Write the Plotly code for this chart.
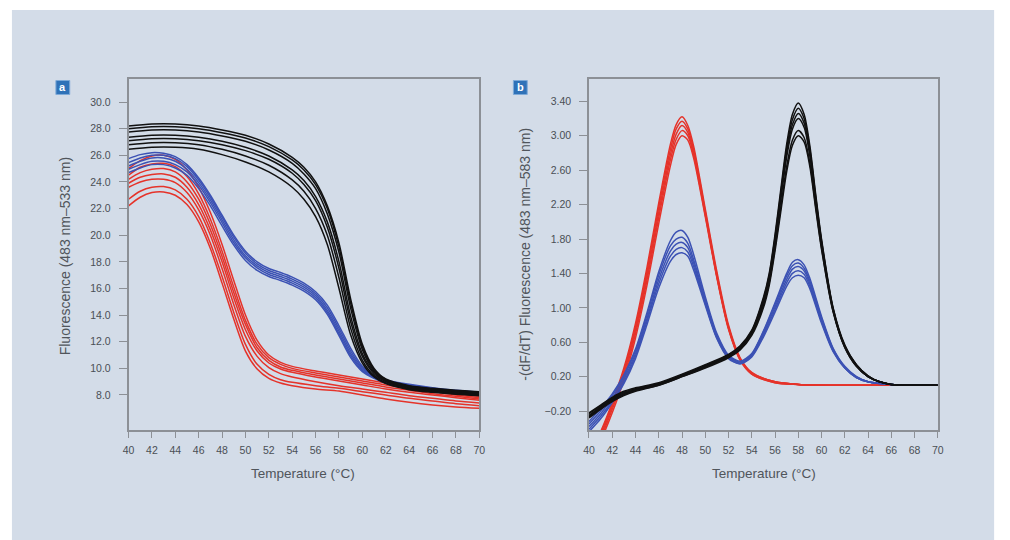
import plotly.graph_objects as go

# ---------------- Panel a: melting curves ----------------
A_BLACK_T = [40, 42, 44, 46, 48, 50, 52, 54, 55, 56, 57, 58, 59, 60, 61, 62, 64, 66, 68, 70]
A_BLACK = [
    [28.20, 28.35, 28.35, 28.20, 27.90, 27.50, 26.85, 25.85, 25.10, 24.00, 22.20, 19.40, 15.20, 11.80, 10.00, 9.20, 8.70, 8.50, 8.35, 8.25],
    [28.00, 28.15, 28.15, 28.00, 27.70, 27.30, 26.65, 25.65, 24.90, 23.80, 22.00, 19.10, 14.90, 11.60, 9.90, 9.15, 8.65, 8.45, 8.30, 8.20],
    [27.75, 27.90, 27.90, 27.75, 27.45, 27.05, 26.40, 25.40, 24.60, 23.50, 21.60, 18.70, 14.50, 11.40, 9.80, 9.10, 8.60, 8.40, 8.25, 8.15],
    [27.35, 27.50, 27.50, 27.35, 27.05, 26.60, 25.95, 24.90, 24.10, 22.90, 21.00, 18.00, 13.90, 11.10, 9.70, 9.05, 8.55, 8.35, 8.20, 8.10],
    [27.10, 27.25, 27.25, 27.10, 26.80, 26.35, 25.70, 24.65, 23.80, 22.60, 20.60, 17.50, 13.50, 10.90, 9.60, 9.00, 8.50, 8.30, 8.15, 8.05],
    [26.80, 26.95, 26.95, 26.80, 26.45, 25.95, 25.25, 24.15, 23.30, 22.00, 20.00, 16.80, 13.00, 10.60, 9.45, 8.90, 8.45, 8.25, 8.10, 8.00],
    [26.45, 26.60, 26.60, 26.45, 26.05, 25.50, 24.75, 23.60, 22.70, 21.40, 19.30, 16.00, 12.50, 10.40, 9.35, 8.85, 8.40, 8.20, 8.05, 7.95],
]

A_BLUE_T = [40, 41, 42, 43, 44, 45, 46, 47, 48, 49, 50, 51, 52, 53, 54, 55, 56, 57, 58, 59, 60, 61, 62, 64, 66, 68, 70]
A_BLUE = [
    [25.75, 26.05, 26.20, 26.15, 25.90, 25.30, 24.30, 23.00, 21.50, 20.00, 18.80, 18.00, 17.50, 17.20, 16.85, 16.40, 15.75, 14.75, 13.20, 11.50, 10.15, 9.45, 9.10, 8.80, 8.55, 8.35, 8.20],
    [25.45, 25.80, 26.00, 26.00, 25.75, 25.15, 24.15, 22.85, 21.35, 19.85, 18.65, 17.85, 17.35, 17.05, 16.70, 16.25, 15.60, 14.55, 13.00, 11.30, 10.05, 9.40, 9.05, 8.75, 8.50, 8.30, 8.15],
    [25.20, 25.55, 25.80, 25.80, 25.55, 24.95, 23.95, 22.65, 21.15, 19.65, 18.45, 17.70, 17.20, 16.90, 16.55, 16.10, 15.45, 14.35, 12.80, 11.10, 9.95, 9.35, 9.00, 8.70, 8.45, 8.25, 8.10],
    [24.95, 25.30, 25.55, 25.55, 25.30, 24.75, 23.75, 22.45, 20.95, 19.45, 18.30, 17.55, 17.05, 16.75, 16.40, 15.95, 15.30, 14.20, 12.60, 10.95, 9.85, 9.30, 8.95, 8.65, 8.40, 8.20, 8.05],
    [24.70, 25.05, 25.30, 25.30, 25.05, 24.50, 23.50, 22.20, 20.70, 19.25, 18.10, 17.35, 16.90, 16.60, 16.25, 15.80, 15.15, 14.05, 12.45, 10.80, 9.75, 9.25, 8.90, 8.60, 8.35, 8.15, 8.00],
]

A_RED_T = [40, 41, 42, 43, 44, 45, 46, 47, 48, 49, 50, 51, 52, 53, 54, 56, 58, 60, 62, 64, 66, 68, 70]
A_RED = [
    [25.00, 25.60, 25.95, 26.00, 25.70, 24.90, 23.60, 21.70, 19.30, 16.60, 14.00, 12.10, 11.00, 10.45, 10.15, 9.80, 9.50, 9.20, 8.90, 8.60, 8.35, 8.10, 7.90],
    [24.50, 25.10, 25.35, 25.40, 25.15, 24.40, 23.10, 21.20, 18.80, 16.10, 13.60, 11.80, 10.80, 10.30, 10.00, 9.65, 9.35, 9.05, 8.75, 8.50, 8.25, 8.00, 7.80],
    [24.20, 24.70, 24.95, 25.00, 24.75, 24.00, 22.70, 20.80, 18.40, 15.70, 13.30, 11.55, 10.60, 10.10, 9.85, 9.50, 9.20, 8.90, 8.60, 8.35, 8.10, 7.90, 7.70],
    [23.90, 24.35, 24.55, 24.60, 24.35, 23.60, 22.30, 20.40, 18.00, 15.30, 12.90, 11.30, 10.40, 9.95, 9.70, 9.35, 9.05, 8.75, 8.45, 8.20, 8.00, 7.80, 7.60],
    [23.60, 24.00, 24.20, 24.20, 23.95, 23.20, 21.90, 20.00, 17.50, 14.80, 12.40, 10.90, 10.05, 9.60, 9.35, 9.00, 8.70, 8.45, 8.20, 7.95, 7.75, 7.55, 7.40],
    [22.70, 23.30, 23.60, 23.65, 23.40, 22.70, 21.40, 19.40, 16.90, 14.20, 11.80, 10.30, 9.55, 9.15, 8.95, 8.70, 8.50, 8.25, 8.00, 7.75, 7.55, 7.35, 7.20],
    [22.20, 22.85, 23.20, 23.25, 23.00, 22.30, 21.00, 19.00, 16.40, 13.70, 11.30, 9.95, 9.25, 8.90, 8.70, 8.45, 8.30, 8.00, 7.70, 7.45, 7.25, 7.10, 7.00],
]

# ---------------- Panel b: derivative curves ----------------
B_RED_T = [40, 41, 42, 43, 44, 45, 46, 47, 47.5, 48, 48.5, 49, 50, 51, 52, 53, 54, 56, 58, 62, 66, 70]
B_RED = [
    [-0.72, -0.44, -0.10, 0.30, 0.82, 1.48, 2.22, 2.90, 3.13, 3.22, 3.12, 2.88, 2.15, 1.42, 0.80, 0.42, 0.25, 0.14, 0.11, 0.10, 0.10, 0.10],
    [-0.74, -0.46, -0.12, 0.27, 0.78, 1.43, 2.17, 2.84, 3.08, 3.17, 3.08, 2.84, 2.12, 1.39, 0.78, 0.41, 0.24, 0.14, 0.11, 0.10, 0.10, 0.10],
    [-0.78, -0.49, -0.15, 0.24, 0.74, 1.38, 2.11, 2.78, 3.02, 3.12, 3.04, 2.80, 2.10, 1.37, 0.77, 0.40, 0.24, 0.14, 0.11, 0.10, 0.10, 0.10],
    [-0.80, -0.52, -0.18, 0.20, 0.70, 1.33, 2.05, 2.72, 2.96, 3.06, 3.00, 2.78, 2.08, 1.36, 0.76, 0.40, 0.23, 0.13, 0.11, 0.10, 0.10, 0.10],
    [-0.84, -0.55, -0.22, 0.16, 0.65, 1.27, 1.98, 2.65, 2.90, 3.00, 2.95, 2.74, 2.06, 1.35, 0.75, 0.39, 0.23, 0.13, 0.11, 0.10, 0.10, 0.10],
]

B_BLUE_T = [40, 41, 42, 43, 44, 45, 46, 47, 47.5, 48, 48.5, 49, 50, 51, 52, 53, 54, 55, 56, 57, 57.5, 58, 58.5, 59, 60, 61, 62, 63, 64, 66, 70]
B_BLUE = [
    [-0.32, -0.17, 0.00, 0.22, 0.52, 0.95, 1.42, 1.78, 1.88, 1.90, 1.82, 1.62, 1.13, 0.70, 0.45, 0.38, 0.47, 0.73, 1.06, 1.40, 1.53, 1.56, 1.50, 1.34, 0.90, 0.53, 0.32, 0.20, 0.14, 0.11, 0.10],
    [-0.35, -0.20, -0.02, 0.20, 0.50, 0.92, 1.38, 1.72, 1.80, 1.82, 1.75, 1.56, 1.10, 0.68, 0.44, 0.37, 0.46, 0.72, 1.04, 1.37, 1.49, 1.52, 1.46, 1.31, 0.88, 0.52, 0.31, 0.20, 0.14, 0.11, 0.10],
    [-0.38, -0.23, -0.05, 0.17, 0.47, 0.88, 1.33, 1.66, 1.74, 1.76, 1.70, 1.52, 1.07, 0.66, 0.43, 0.36, 0.45, 0.70, 1.01, 1.33, 1.45, 1.48, 1.43, 1.28, 0.86, 0.51, 0.31, 0.19, 0.14, 0.11, 0.10],
    [-0.41, -0.26, -0.08, 0.14, 0.44, 0.85, 1.28, 1.60, 1.68, 1.70, 1.65, 1.48, 1.05, 0.65, 0.42, 0.35, 0.44, 0.68, 0.98, 1.29, 1.40, 1.43, 1.39, 1.25, 0.84, 0.50, 0.30, 0.19, 0.14, 0.11, 0.10],
    [-0.44, -0.29, -0.10, 0.12, 0.41, 0.81, 1.23, 1.54, 1.62, 1.64, 1.60, 1.44, 1.03, 0.64, 0.41, 0.35, 0.43, 0.66, 0.95, 1.25, 1.35, 1.38, 1.35, 1.22, 0.82, 0.49, 0.30, 0.19, 0.14, 0.11, 0.10],
]

B_BLACK_T = [40, 41, 42, 43, 44, 46, 48, 50, 52, 53, 54, 55, 55.5, 56, 56.5, 57, 57.5, 58, 58.5, 59, 59.5, 60, 61, 62, 63, 64, 65, 66, 68, 70]
B_BLACK = [
    [-0.22, -0.13, -0.04, 0.03, 0.07, 0.13, 0.23, 0.34, 0.46, 0.56, 0.74, 1.12, 1.40, 1.85, 2.38, 2.90, 3.25, 3.38, 3.25, 2.88, 2.32, 1.80, 1.00, 0.57, 0.34, 0.21, 0.14, 0.11, 0.10, 0.10],
    [-0.23, -0.14, -0.05, 0.02, 0.06, 0.12, 0.22, 0.33, 0.45, 0.55, 0.73, 1.10, 1.38, 1.82, 2.34, 2.85, 3.19, 3.32, 3.20, 2.84, 2.29, 1.78, 0.99, 0.56, 0.34, 0.21, 0.14, 0.11, 0.10, 0.10],
    [-0.25, -0.15, -0.06, 0.01, 0.05, 0.11, 0.21, 0.32, 0.44, 0.54, 0.72, 1.08, 1.35, 1.79, 2.30, 2.80, 3.13, 3.26, 3.15, 2.80, 2.26, 1.76, 0.98, 0.55, 0.33, 0.20, 0.14, 0.11, 0.10, 0.10],
    [-0.26, -0.16, -0.07, 0.00, 0.05, 0.11, 0.21, 0.32, 0.44, 0.53, 0.71, 1.06, 1.33, 1.76, 2.26, 2.75, 3.08, 3.20, 3.10, 2.76, 2.23, 1.74, 0.97, 0.55, 0.33, 0.20, 0.14, 0.11, 0.10, 0.10],
    [-0.27, -0.17, -0.08, -0.01, 0.04, 0.10, 0.20, 0.31, 0.43, 0.52, 0.70, 1.03, 1.29, 1.70, 2.17, 2.64, 2.95, 3.06, 2.98, 2.68, 2.18, 1.70, 0.96, 0.54, 0.32, 0.20, 0.14, 0.11, 0.10, 0.10],
    [-0.28, -0.18, -0.09, -0.02, 0.03, 0.10, 0.20, 0.30, 0.42, 0.51, 0.68, 1.00, 1.26, 1.66, 2.12, 2.58, 2.89, 3.00, 2.93, 2.64, 2.15, 1.68, 0.95, 0.54, 0.32, 0.20, 0.14, 0.11, 0.10, 0.10],
]

X_TICKS = list(range(40, 71, 2))
A_YTICKS = [8.0, 10.0, 12.0, 14.0, 16.0, 18.0, 20.0, 22.0, 24.0, 26.0, 28.0, 30.0]
B_YTICKS = [-0.20, 0.20, 0.60, 1.00, 1.40, 1.80, 2.20, 2.60, 3.00, 3.40]

RED = "#e5332a"
BLUE = "#3c52b4"
BLACK = "#111111"
W, H = 1010, 540
FONT = "Liberation Sans, Arial, sans-serif"

fig = go.Figure()


def add_group(T, curves, color, xa, ya):
    for c in curves:
        fig.add_trace(go.Scatter(x=T, y=c, mode="lines", xaxis=xa, yaxis=ya,
                                 line=dict(color=color, width=1.5, shape="spline", smoothing=0.8),
                                 showlegend=False, hoverinfo="skip"))


add_group(A_RED_T, A_RED, RED, "x", "y")
add_group(A_BLUE_T, A_BLUE, BLUE, "x", "y")
add_group(A_BLACK_T, A_BLACK, BLACK, "x", "y")
add_group(B_RED_T, B_RED, RED, "x2", "y2")
add_group(B_BLUE_T, B_BLUE, BLUE, "x2", "y2")
add_group(B_BLACK_T, B_BLACK, BLACK, "x2", "y2")

axis_common = dict(showline=True, linecolor="#8c9096", linewidth=1.5, mirror=True,
                   ticks="outside", tickcolor="#8c9096", tickwidth=1,
                   showgrid=False, zeroline=False,
                   tickfont=dict(family=FONT, size=10.5, color="#4a4f55"))
xax = dict(ticklen=6, ticklabelstandoff=4, **axis_common)
yax = dict(ticklen=8, ticklabelstandoff=6, **axis_common)

shapes = [dict(type="rect", xref="paper", yref="paper", x0=6 / W, x1=1000 / W, y0=0, y1=1 - 10 / H,
               fillcolor="#d3dce8", line=dict(width=0), layer="below")]
# small blue panel-label squares
for x0 in (50.5, 513.5):
    shapes.append(dict(type="rect", xref="paper", yref="paper", x0=x0 / W, x1=(x0 + 14) / W,
                       y0=1 - 94.5 / H, y1=1 - 80.5 / H, fillcolor="#2f72b8",
                       line=dict(color="#7eaad8", width=1), layer="above"))

ya_dom = [1 - 430 / H, 1 - 79 / H]
fig.update_layout(
    width=W, height=H, margin=dict(l=0, r=0, t=0, b=0),
    paper_bgcolor="white", plot_bgcolor="white",
    xaxis=dict(domain=[124 / W, 479 / W], range=[40, 70], tickvals=X_TICKS, anchor="y", **xax),
    yaxis=dict(domain=ya_dom, range=[5.37, 31.73], tickvals=A_YTICKS, tickformat=".1f", anchor="x", **yax),
    xaxis2=dict(domain=[590 / W, 943 / W], range=[40, 70], tickvals=X_TICKS, anchor="y2", **xax),
    yaxis2=dict(domain=ya_dom, range=[-0.42, 3.66], tickvals=B_YTICKS, tickformat=".2f", anchor="x2", **yax),
    shapes=shapes,
)

ann = [
    dict(text="Fluorescence (483 nm–533 nm)", x=60 / W, y=1 - 256 / H, textangle=-90, size=14),
    dict(text="-(dF/dT) Fluorescence (483 nm–583 nm)", x=525 / W, y=1 - 254 / H, textangle=-90, size=14),
    dict(text="Temperature (°C)", x=301 / W, y=1 - 473 / H, textangle=0, size=13.5),
    dict(text="Temperature (°C)", x=767 / W, y=1 - 473 / H, textangle=0, size=13.5),
]
for a in ann:
    size = a.pop("size")
    fig.add_annotation(xref="paper", yref="paper", xanchor="center", yanchor="middle",
                       showarrow=False, font=dict(family=FONT, size=size, color="#50555b"), **a)

for letter, px in (("a", 57.5), ("b", 520.5)):
    fig.add_annotation(xref="paper", yref="paper", x=px / W, y=1 - 87.5 / H, text="<b>" + letter + "</b>",
                       showarrow=False, xanchor="center", yanchor="middle",
                       font=dict(family=FONT, size=11, color="white"))

fig.write_html("out.html")
